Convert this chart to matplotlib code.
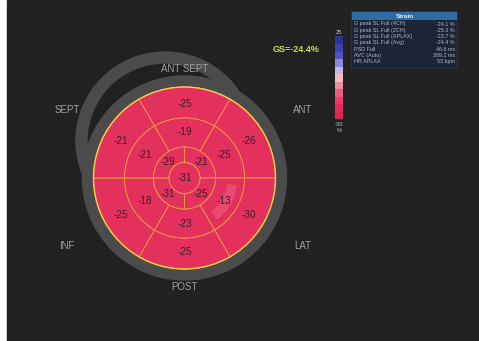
import numpy as np
import matplotlib
matplotlib.use("Agg")
import matplotlib.pyplot as plt
from matplotlib.patches import Wedge, Circle, Rectangle
from matplotlib.colors import ListedColormap

plt.rcParams['font.family'] = ['Liberation Sans', 'DejaVu Sans']

# 17 segment strain values, clockwise from the top (ANT SEPT)
basal = [-25, -26, -30, -25, -25, -21]
mid = [-19, -25, -13, -23, -18, -21]
apical = [-21, -25, -31, -29]   # clockwise from upper right
apex = -31
global_strain = -24.4

walls = ["ANT SEPT", "ANT", "LAT", "POST", "INF", "SEPT"]

table_labels = ["G peak SL Full (4CH)", "G peak SL Full (2CH)", "G peak SL Full (APLAX)",
                "G peak SL Full (Avg)", "PSD Full", "AVC (Auto)", "HR APLAX"]
table_values = ["-24.1 %", "-25.3 %", "-23.7 %", "-24.4 %", "46.6 ms", "389.2 ms", "53 bpm"]

cbar_colors = ["#2c3596", "#3a42b4", "#5056c8", "#8a8ad8", "#c4b8e6", "#f4bccb",
               "#f08aa2", "#ec5c7e", "#e83c66", "#e42c5a", "#e0244f"]
cbar_top, cbar_bottom = 25, -30

BG = "#212121"
PINK = "#e4305c"
LINE = "#f2a03c"
TXT = "#35202b"
LBL = "#a0a0a0"

fig = plt.figure(figsize=(4.79, 3.41), dpi=100)
fig.patch.set_facecolor("white")
ax = fig.add_axes([0, 0, 1, 1])
ax.set_xlim(0, 479)
ax.set_ylim(341, 0)
ax.set_aspect("equal")
ax.axis("off")
ax.add_patch(Rectangle((7, 0), 472, 341, color=BG, zorder=0))

cx, cy = 184.5, 178.0
radii = [15.5, 31, 60, 91]


def wedge(r, width, a1, a2, **kw):
    # screen angles (counter-clockwise from east) -> flipped y axis
    return Wedge((cx, cy), r, -a2, -a1, width=width, **kw)


def polar(r, ang):
    a = np.deg2rad(ang)
    return cx + r * np.cos(a), cy - r * np.sin(a)


# grey rings (shifted ghost ring behind, main ring in front)
ax.add_patch(Wedge((165, 141), 89, 0, 360, width=11, color="#4b4b4b", zorder=1))
ax.add_patch(Circle((cx, cy), 102, color="#4b4b4b", zorder=2))

# segments
def draw_ring(values, r_in, r_out, text_r, offset):
    n = len(values)
    step = 360 / n
    for i, v in enumerate(values):
        a_center = 90 - offset - i * step
        a1, a2 = a_center - step / 2, a_center + step / 2
        ax.add_patch(wedge(r_out, r_out - r_in, a1, a2, facecolor=PINK,
                           edgecolor=LINE, linewidth=0.6, zorder=3))
        tx, ty = polar(text_r, a_center)
        ax.text(tx, ty, str(v), ha="center", va="center", fontsize=7.2,
                color=TXT, zorder=6)


draw_ring(basal, radii[2], radii[3], 74, 0)
draw_ring(mid, radii[1], radii[2], 46, 0)
draw_ring(apical, radii[0], radii[1], 23, 45)
ax.add_patch(Circle((cx, cy), radii[0], facecolor=PINK, edgecolor=LINE,
                    linewidth=0.6, zorder=3))
ax.text(cx, cy, str(apex), ha="center", va="center", fontsize=7.2, color=TXT, zorder=6)
ax.add_patch(Circle((cx, cy), radii[3], fill=False, edgecolor="#f4d040",
                    linewidth=1.0, zorder=4))

# faint light patch on the lateral mid segment
ax.add_patch(wedge(53, 10, -52, -8, facecolor="#f08aa8", alpha=0.3,
                   linewidth=0, zorder=4))

# wall labels
for name, ang in zip(walls, [90, 30, -30, -90, -150, 150]):
    x, y = polar(136, ang)
    if name in ("ANT SEPT", "POST"):
        y = cy - 109 if name == "ANT SEPT" else cy + 109
    ax.text(x, y, name, ha="center", va="center", fontsize=7, color=LBL, zorder=6)

# global strain
ax.text(296, 50, "GS=%.1f%%" % global_strain, ha="center", va="center",
        fontsize=6.5, fontweight="bold", color="#c8e048", zorder=6)

# colour bar
cmap = ListedColormap(cbar_colors[::-1])
grad = np.linspace(cbar_top, cbar_bottom, 100).reshape(-1, 1)
ax.imshow(grad, cmap=cmap, vmin=cbar_bottom, vmax=cbar_top, aspect="auto",
          extent=(335, 343, 119, 36), zorder=5, interpolation="nearest")
ax.text(339, 32, str(cbar_top), ha="center", va="center", fontsize=4.2, color="#c8c8c8")
ax.text(339, 124, str(cbar_bottom), ha="center", va="center", fontsize=4.2, color="#c8c8c8")
ax.text(339, 131, "%", ha="center", va="center", fontsize=4.2, color="#c8c8c8")

# strain table
ax.add_patch(Rectangle((351, 11), 106, 57, facecolor="#1b2535", edgecolor="#2c3a50",
                       linewidth=0.5, zorder=5))
ax.add_patch(Rectangle((352, 12), 105, 8, facecolor="#2f6ca4", zorder=6))
ax.text(404.5, 16, "Strain", ha="center", va="center", fontsize=4.6,
        fontweight="bold", color="#e8eef6", zorder=7)
for i, (lab, val) in enumerate(zip(table_labels, table_values)):
    y = 24 + i * 6.3
    ax.text(354, y, lab, ha="left", va="center", fontsize=3.9, color="#aab6c6", zorder=7)
    ax.text(455, y, val, ha="right", va="center", fontsize=3.9, color="#aab6c6", zorder=7)

fig.savefig("out.png", dpi=100, facecolor=fig.get_facecolor())
